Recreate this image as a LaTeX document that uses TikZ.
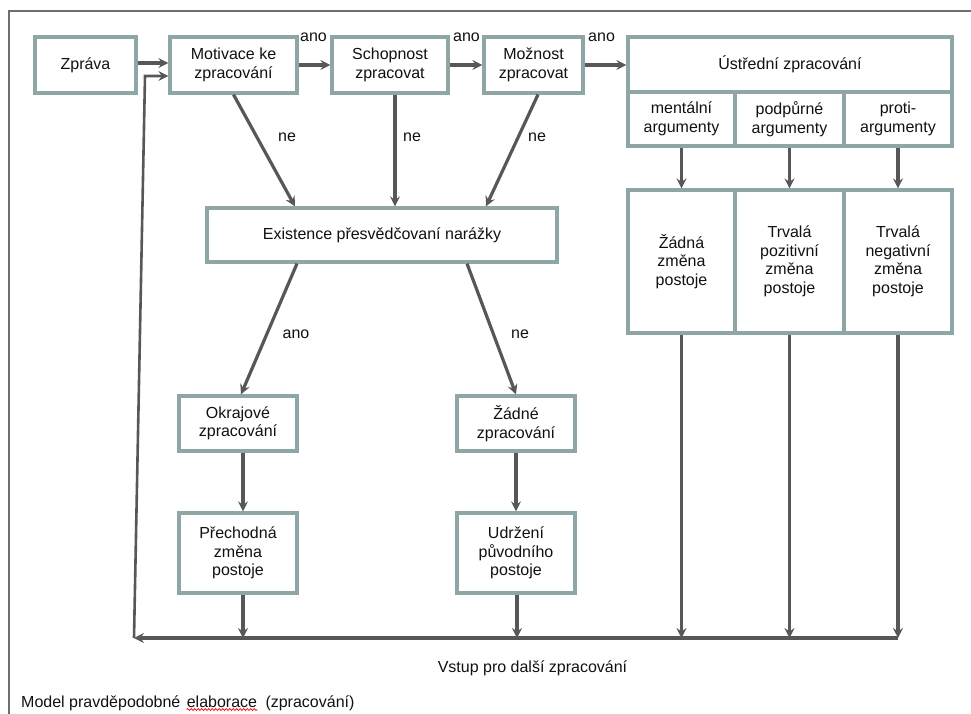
\documentclass[tikz,border=0pt]{standalone}
\usepackage{fontspec}
\setmainfont{Liberation Sans}
\usetikzlibrary{arrows.meta,decorations.pathmorphing}
\definecolor{boxline}{HTML}{8FA6A6}
\definecolor{conn}{HTML}{575757}
\definecolor{framec}{HTML}{6E6E6E}
\definecolor{ink}{HTML}{111111}

\begin{document}
\begin{tikzpicture}[x=1pt,y=-1pt,
  every node/.style={font=\fontsize{16}{18.5}\selectfont, text=ink},
  box/.style={draw=boxline, line width=3.2pt, fill=white, align=center, inner sep=0pt},
  arr/.style={draw=conn, line width=3.2pt, -{Stealth[length=10pt,width=10pt,inset=3.5pt]}},
  lbl/.style={inner sep=0pt},
]
\useasboundingbox (0,0) rectangle (971,714);

% outer frame (top and left edges)
\draw[framec, line width=2pt] (9,714) -- (9,11) -- (971,11);

% top row
\node[box, minimum width=101pt, minimum height=56pt] (zprava) at (85.5,65) {Zpráva};
\node[box, minimum width=127pt, minimum height=56pt] (motiv) at (233.5,65) {Motivace ke\\zpracování};
\node[box, minimum width=116pt, minimum height=56pt] (schop) at (390,65) {Schopnost\\zpracovat};
\node[box, minimum width=99pt, minimum height=56pt] (mozn) at (533.5,65) {Možnost\\zpracovat};

% central route
\node[box, minimum width=324pt, minimum height=55pt] (ustr) at (790,64.5) {Ústřední zpracování};
\node[box, minimum width=107pt, minimum height=54pt] (ment) at (681.5,119) {mentální\\argumenty};
\node[box, minimum width=109pt, minimum height=54pt] (podp) at (789.5,119) {podpůrné\\argumenty};
\node[box, minimum width=108pt, minimum height=54pt] (proti) at (898,119) {proti-\\argumenty};
\node[box, minimum width=107pt, minimum height=143pt] (zad) at (681.5,261.5) {Žádná\\změna\\postoje};
\node[box, minimum width=109pt, minimum height=143pt] (trvp) at (789.5,261.5) {Trvalá\\pozitivní\\změna\\postoje};
\node[box, minimum width=108pt, minimum height=143pt] (trvn) at (898,261.5) {Trvalá\\negativní\\změna\\postoje};

% peripheral route
\node[box, minimum width=350pt, minimum height=54pt] (exist) at (382,235) {Existence přesvědčovaní narážky};
\node[box, minimum width=118pt, minimum height=55pt] (okraj) at (238,423.5) {Okrajové\\zpracování};
\node[box, minimum width=118pt, minimum height=55pt] (zadne) at (516,423.5) {Žádné\\zpracování};
\node[box, minimum width=118pt, minimum height=80pt] (prech) at (238,553) {Přechodná\\změna\\postoje};
\node[box, minimum width=118pt, minimum height=80pt] (udrz) at (516,553) {Udržení\\původního\\postoje};

% top chain
\draw[arr] ([yshift=2pt]zprava.east) -- ([yshift=2pt]motiv.west);
\draw[arr] (motiv) -- (schop);
\draw[arr] (schop) -- (mozn);
\draw[arr] (mozn.east) -- (mozn.east -| ustr.west);
\node[lbl, anchor=mid west] (ano1) at (300,38.7) {ano};
\node[lbl, anchor=mid west] (ano2) at (453,38.7) {ano};
\node[lbl, anchor=mid west] (ano3) at (588,38.7) {ano};

% "ne" branches into the cue check
\draw[arr] (motiv.south) -- ([xshift=-87pt]exist.north);
\draw[arr] ([xshift=5pt]schop.south) -- ([xshift=5pt]schop.south |- exist.north);
\draw[arr] ([xshift=4.5pt]mozn.south) -- ([xshift=104pt]exist.north);
\node[lbl, anchor=mid] (ne1) at (287,139) {ne};
\node[lbl, anchor=mid] (ne2) at (412,139) {ne};
\node[lbl, anchor=mid] (ne3) at (537,139) {ne};

% cue check outcomes
\draw[arr] ([xshift=-85pt]exist.south) -- ([xshift=3pt]okraj.north);
\draw[arr] ([xshift=85pt]exist.south) -- (zadne.north);
\node[lbl, anchor=mid] (ano4) at (296,336) {ano};
\node[lbl, anchor=mid] (ne4) at (520,336) {ne};
\draw[arr] ([xshift=5pt]okraj.south) -- ([xshift=5pt]prech.north);
\draw[arr] (zadne) -- (udrz);

% arguments to attitude change
\draw[arr] (ment) -- (zad);
\draw[arr] (podp) -- (trvp);
\draw[arr] (proti) -- (trvn);

% feedback bus
\coordinate (busL) at (134,638);
\coordinate (fbtop) at (145,76);
\draw[arr] ([xshift=5pt]prech.south) -- ([xshift=5pt]prech.south |- busL);
\draw[arr] ([xshift=1pt]udrz.south) -- ([xshift=1pt]udrz.south |- busL);
\draw[arr] (zad.south) -- (zad.south |- busL);
\draw[arr] (trvp.south) -- (trvp.south |- busL);
\draw[arr] (trvn.south) -- (trvn.south |- busL);
\draw[arr] (trvn.south |- busL) -- (busL);
\draw[arr, line width=2.6pt] (busL) -- (fbtop) -- ([yshift=-11pt]motiv.west);
\node[lbl, anchor=base] (vstup) at (532.5,672) {Vstup pro další zpracování};

% caption
\node[lbl, anchor=base west] (cap1) at (21,707) {Model pravděpodobné};
\node[lbl, anchor=base west] (cap2) at ([xshift=6pt]cap1.base east) {elaborace};
\node[lbl, anchor=base west] (cap3) at ([xshift=8pt]cap2.base east) {(zpracování)};
\draw[red, line width=0.7pt, decorate, decoration={snake, amplitude=1pt, segment length=3.5pt}]
  ([yshift=-2.5pt]cap2.base west) -- ([yshift=-2.5pt]cap2.base east);
\end{tikzpicture}
\end{document}
